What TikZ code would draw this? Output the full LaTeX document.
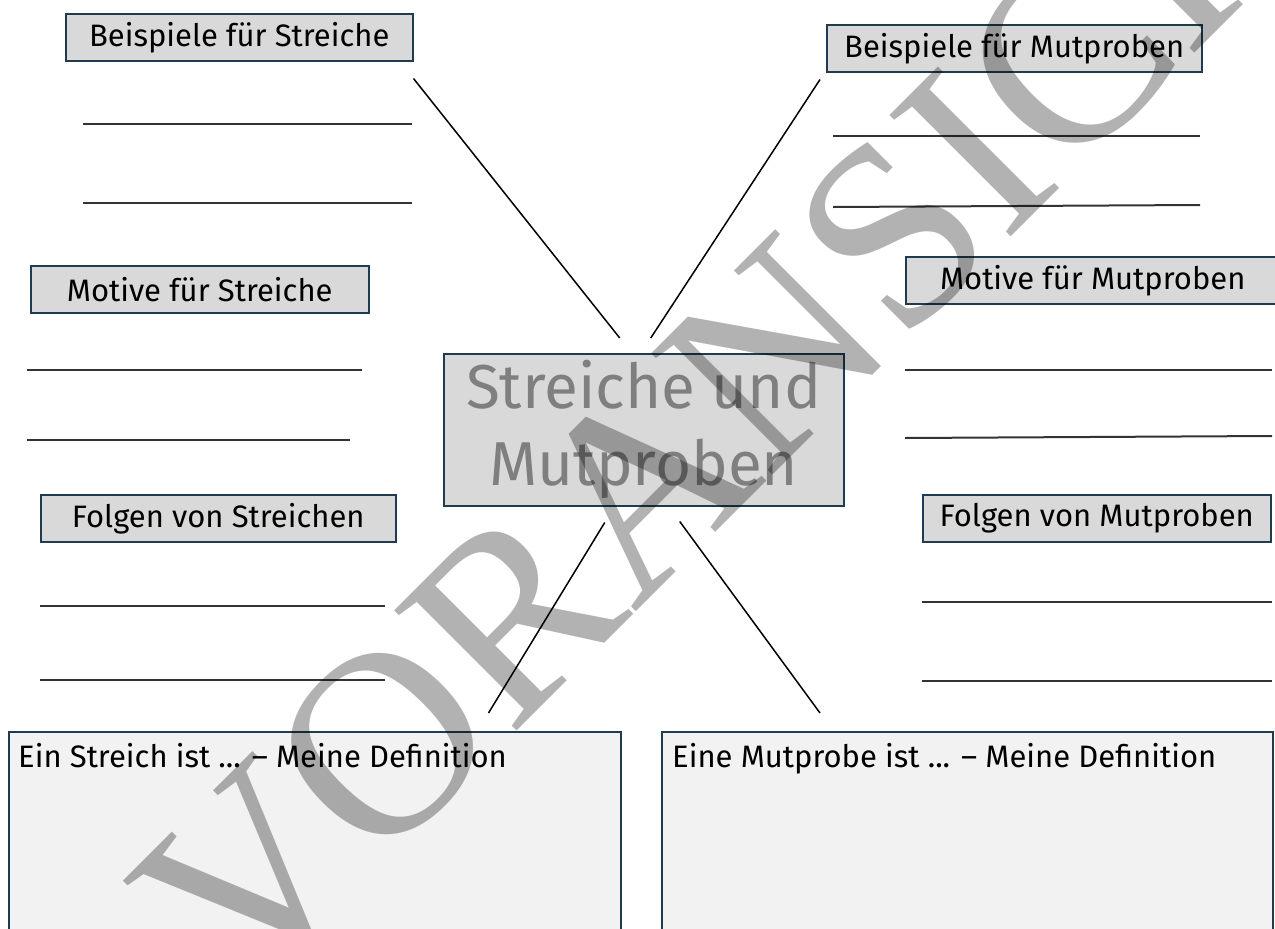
\documentclass[tikz,border=0pt]{standalone}
\usepackage{fontspec}
\setmainfont{Fira Sans}
\newfontfamily\wzfont{Liberation Serif}
\usetikzlibrary{calc,positioning}
\definecolor{boxgrau}{HTML}{D9D9D9}
\definecolor{randblau}{HTML}{1F3B4D}
\definecolor{defgrau}{HTML}{F2F2F2}
\definecolor{titelgrau}{HTML}{7F7F7F}

\begin{document}
\begin{tikzpicture}[x=1pt,y=-1pt]
\tikzstyle{kasten} = [draw=randblau, fill=boxgrau, line width=1.5pt, anchor=north west, inner sep=0pt, minimum height=47pt, font=\fontsize{31}{36}\selectfont]
\tikzstyle{defkasten} = [draw=randblau, fill=defgrau, line width=1.5pt, anchor=north west, minimum width=612pt, minimum height=230pt]
\tikzstyle{deftext} = [anchor=north west, inner sep=0pt, font=\fontsize{31}{36}\selectfont]
\tikzstyle{zeile} = [line width=2pt, black!80]
\tikzstyle{ast} = [line width=1.5pt]
\useasboundingbox (0,0) rectangle (1275,929);

% linke Seite
\node[kasten, minimum width=347pt](bs) at (65,13) {Beispiele für Streiche};
\node[kasten, minimum width=338pt](ms) at (30,265) {Motive für Streiche};
\node[kasten, minimum width=355pt](fs) at (40,494) {Folgen von Streichen};
\draw[zeile] (83,124) -- (412,124);
\draw[zeile] (83,203) -- (412,203);
\draw[zeile] (27,370) -- (362,370);
\draw[zeile] (27,440) -- (350,440);
\draw[zeile] (40,606) -- (385,606);
\draw[zeile] (40,680) -- (385,680);

% rechte Seite
\node[kasten, minimum width=375pt](bm) at (826,24) {Beispiele für Mutproben};
\node[kasten, minimum width=374pt](mm) at (905,256) {Motive für Mutproben};
\node[kasten, minimum width=348pt](fm) at (922,494) {Folgen von Mutproben};
\draw[zeile] (833,136) -- (1200,136);
\draw[zeile] (833,207) -- (1200,205);
\draw[zeile] (905,370) -- (1272,370);
\draw[zeile] (905,438) -- (1272,436);
\draw[zeile] (922,602) -- (1272,602);
\draw[zeile] (922,681) -- (1272,681);

% Mitte
\node[kasten, minimum width=400pt, minimum height=152pt, align=center, text=titelgrau, font=\fontsize{62}{77}\selectfont](mitte) at (443,353) {Streiche und\\Mutproben};

% Definitionen
\node[defkasten](ds) at (8,731) {};
\node[defkasten, minimum width=611pt](dm) at (661,731) {};
\node[deftext](dst) at ($(ds.north west)+(10,12)$) {Ein Streich ist ... – Meine Definition};
\node[deftext](dmt) at ($(dm.north west)+(11,12)$) {Eine Mutprobe ist ... – Meine Definition};

\draw[ast] ($(bs.south east)+(0,17)$) -- ($(mitte.north)+(-24,-15)$);
\draw[ast] ($(bm.south west)+(-6,7)$) -- ($(mitte.north)+(7,-15)$);
\draw[ast] ($(mitte.south)+(-39,16)$) -- ($(ds.north east)+(-133,-18)$);
\draw[ast] ($(mitte.south)+(36,15)$) -- ($(dm.north west)+(159,-18)$);

% Wasserzeichen
\node[rotate=45, text=black, text opacity=0.3, font=\wzfont\fontsize{262}{262}\selectfont, inner sep=0pt](wz) at (780,348) {VORANSICHT};
\end{tikzpicture}
\end{document}
